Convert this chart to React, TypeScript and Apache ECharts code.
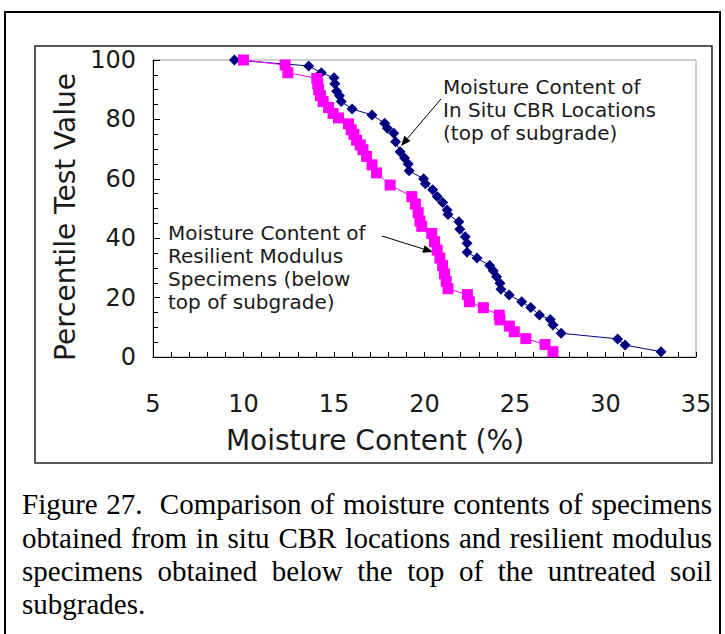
import React, { useEffect, useRef } from "react";
import * as echarts from "echarts";

// In situ CBR locations (top of subgrade)
const cbrMoisture = [9.5, 13.6, 14.3, 15.0, 15.05, 15.15, 15.3, 15.4, 16.0, 17.1, 17.8, 17.95, 18.3, 18.4, 18.65, 18.9, 19.1, 19.15, 19.95, 20.05, 20.45, 20.7, 21.0, 21.25, 21.3, 21.9, 21.95, 22.25, 22.35, 22.35, 22.9, 23.6, 23.8, 23.98, 24.17, 24.22, 24.68, 25.37, 25.87, 26.35, 26.95, 27.1, 27.55, 30.67, 31.08, 33.07];
const cbrPercentile = [100, 98, 95.7, 94, 92, 89.5, 88, 86, 83.5, 81.5, 78.7, 77, 75.3, 72.5, 69.1, 67, 65, 62.7, 60, 58.3, 56.3, 54, 52, 49.5, 48, 45.5, 43, 40.5, 38.3, 35.3, 33.3, 30.8, 29, 27, 24.8, 22.8, 20.9, 18.6, 16.7, 14.1, 12.6, 10.8, 8, 6.1, 4, 1.8];

// Resilient modulus specimens (below top of subgrade)
const mrMoisture = [10.0, 12.3, 12.45, 14.05, 14.1, 14.15, 14.25, 14.4, 14.7, 14.95, 15.25, 15.8, 15.95, 16.1, 16.25, 16.45, 16.6, 16.8, 17.1, 17.35, 18.1, 19.3, 19.5, 19.65, 19.75, 19.85, 20.4, 20.55, 20.7, 20.85, 21.0, 21.1, 21.2, 21.3, 22.37, 22.48, 23.25, 24.13, 24.17, 24.69, 24.96, 25.6, 26.66, 27.1];
const mrPercentile = [100, 98.3, 95.7, 93.8, 92, 90, 88, 86, 84, 82, 80.5, 78.5, 76.5, 75, 73, 71.4, 69.8, 67.5, 64.7, 62, 57.9, 54, 51.5, 48.6, 45.8, 44, 41.6, 38.8, 36, 33.3, 30.8, 28, 25.5, 23, 21, 18.6, 16.6, 14.1, 12.5, 10.4, 8.5, 6.2, 4.2, 1.8];

const xAxisTitle = "Moisture Content (%)";
const yAxisTitle = "Percentile Test Value";
const cbrLabel = ["Moisture Content of", "In Situ CBR Locations", "(top of subgrade)"];
const mrLabel = ["Moisture Content of", "Resilient Modulus", "Specimens (below", "top of subgrade)"];
const captionLines = [
  "Figure 27.  Comparison of moisture contents of specimens",
  "obtained from in situ CBR locations and resilient modulus",
  "specimens obtained below the top of the untreated soil",
  "subgrades.",
];

const SANS = '"DejaVu Sans", Verdana, sans-serif';
const SERIF = '"Liberation Serif", "Times New Roman", serif';
const TEXT = "#1a1a1a";

function arrow(x1: number, y1: number, x2: number, y2: number): any[] {
  const dx = x2 - x1;
  const dy = y2 - y1;
  const len = Math.sqrt(dx * dx + dy * dy);
  const ux = dx / len;
  const uy = dy / len;
  const hl = 10;
  const hw = 4;
  const bx = x2 - ux * hl;
  const by = y2 - uy * hl;
  return [
    { type: "line", shape: { x1, y1, x2: bx, y2: by }, style: { stroke: "#000", lineWidth: 1 }, silent: true },
    {
      type: "polygon",
      shape: { points: [[x2, y2], [bx - uy * hw, by + ux * hw], [bx + uy * hw, by - ux * hw]] },
      style: { fill: "#000" },
      silent: true,
    },
  ];
}

function captionElements(): any[] {
  const fontSize = 29;
  const font = `${fontSize}px ${SERIF}`;
  const ctx = document.createElement("canvas").getContext("2d") as CanvasRenderingContext2D;
  ctx.font = font;
  const spaceW = ctx.measureText(" ").width;
  const left = 22;
  const right = 712;
  const centers = [504, 537.5, 571, 604];
  const els: any[] = [];
  captionLines.forEach((line, li) => {
    const y = centers[li];
    if (li === captionLines.length - 1) {
      els.push({ type: "text", x: left, y, style: { text: line, font, fill: "#000", align: "left", verticalAlign: "middle" } });
      return;
    }
    const words = line.split(" ");
    const widths = words.map((w) => (w ? ctx.measureText(w).width : 0));
    const total = widths.reduce((a, b) => a + b, 0);
    const gap = Math.max(spaceW * 0.6, (right - left - total) / (words.length - 1));
    let x = left;
    words.forEach((w, i) => {
      if (w) {
        els.push({ type: "text", x, y, style: { text: w, font, fill: "#000", align: "left", verticalAlign: "middle" } });
      }
      x += widths[i] + gap;
    });
  });
  return els;
}

export default function App() {
  const ref = useRef<HTMLDivElement>(null);
  useEffect(() => {
    if (!ref.current) return;
    const chart = echarts.init(ref.current, undefined, { renderer: "svg" });
    const cbrData = cbrMoisture.map((x, i) => [x, cbrPercentile[i]]);
    const mrData = mrMoisture.map((x, i) => [x, mrPercentile[i]]);

    const graphic: any[] = [
      { type: "rect", shape: { x: 5, y: 12, width: 715, height: 640 }, style: { fill: "none", stroke: "#000", lineWidth: 2 }, silent: true, z: -1 },
      { type: "rect", shape: { x: 35, y: 46, width: 677, height: 417 }, style: { fill: "none", stroke: "#222", lineWidth: 1.5 }, silent: true, z: -1 },
      {
        type: "text",
        x: 65,
        y: 217,
        rotation: Math.PI / 2,
        style: { text: yAxisTitle, font: `28px ${SANS}`, fill: TEXT, align: "center", verticalAlign: "middle" },
      },
      {
        type: "text",
        x: 375,
        y: 440,
        style: { text: xAxisTitle, font: `28px ${SANS}`, fill: TEXT, align: "center", verticalAlign: "middle" },
      },
      {
        type: "text",
        x: 443,
        y: 75.5,
        style: { text: cbrLabel.join("\n"), font: `20px ${SANS}`, lineHeight: 23, fill: TEXT, align: "left", verticalAlign: "top" },
      },
      {
        type: "text",
        x: 168,
        y: 221.5,
        style: { text: mrLabel.join("\n"), font: `20px ${SANS}`, lineHeight: 23, fill: TEXT, align: "left", verticalAlign: "top" },
      },
      ...arrow(441, 99, 401, 146),
      ...arrow(382, 236, 433, 252),
      ...captionElements(),
    ];

    chart.setOption({
      animation: false,
      backgroundColor: "#fff",
      grid: {
        left: 153,
        right: 29,
        top: 60,
        bottom: 277,
        containLabel: false,
        outerBoundsMode: "none",
        show: true,
        borderColor: "#a0a0a0",
        borderWidth: 1,
      },
      xAxis: {
        type: "value",
        min: 5,
        max: 35,
        interval: 5,
        axisLine: { show: true, lineStyle: { color: "#000", width: 1 } },
        axisTick: { show: true, inside: true, length: 5, lineStyle: { color: "#000" } },
        minorTick: { show: true, splitNumber: 5, length: 5, lineStyle: { color: "#000" } },
        axisLabel: { fontFamily: SANS, fontSize: 24, color: TEXT, margin: 35 },
        splitLine: { show: false },
      },
      yAxis: {
        type: "value",
        min: 0,
        max: 100,
        interval: 20,
        axisLine: { show: true, lineStyle: { color: "#000", width: 1 } },
        axisTick: { show: true, inside: true, length: 7, lineStyle: { color: "#000" } },
        minorTick: { show: true, splitNumber: 4, length: 5, lineStyle: { color: "#000" } },
        axisLabel: { fontFamily: SANS, fontSize: 24, color: TEXT, margin: 17 },
        splitLine: { show: false },
      },
      series: [
        {
          name: "In Situ CBR Locations",
          type: "line",
          data: cbrData,
          symbol: "diamond",
          symbolSize: 11,
          lineStyle: { color: "#000080", width: 1 },
          itemStyle: { color: "#000080", borderWidth: 0 },
          z: 2,
        },
        {
          name: "Resilient Modulus Specimens",
          type: "line",
          data: mrData,
          symbol: "rect",
          symbolSize: 11,
          lineStyle: { color: "#ff00ff", width: 1 },
          itemStyle: { color: "#ff00ff", borderWidth: 0 },
          z: 3,
        },
      ],
      graphic,
    });
    return () => chart.dispose();
  }, []);
  return <div ref={ref} style={{ position: "fixed", left: 0, top: 0, width: 725, height: 634 }} />;
}
